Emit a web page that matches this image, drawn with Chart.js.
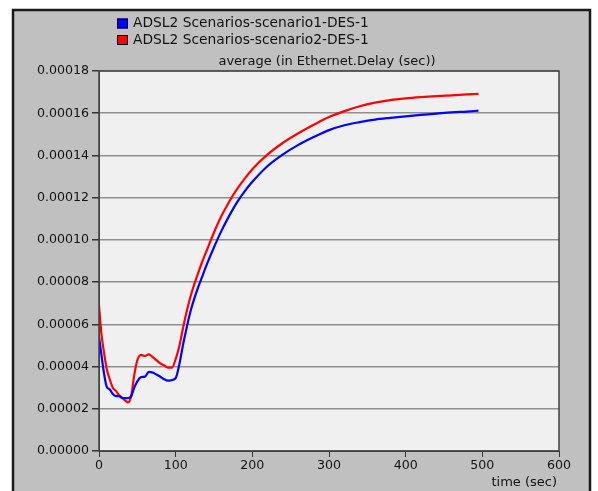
<!DOCTYPE html>
<html>
<head>
<meta charset="utf-8">
<script src="https://cdn.jsdelivr.net/npm/chart.js@4/dist/chart.umd.min.js"></script>
<style>
  html, body { margin: 0; padding: 0; background: #fff; }
  #wrap { width: 598px; height: 491px; }
</style>
</head>
<body>
<div id="wrap"><canvas id="delay" width="598" height="491"></canvas></div>
<script>
// sample times (sec)
let times = [0, 3, 6, 10, 14, 18, 22, 26, 30, 34, 38, 42, 46, 50, 55, 60, 65, 70, 75, 80, 85, 90, 95, 100,
  105, 110, 115, 120, 125, 130, 135, 140, 150, 160, 170, 180, 190, 200, 220, 240, 260, 280, 300, 320, 340, 360,
  380, 400, 420, 440, 460, 480, 495]

// average Ethernet delay, in units of 1e-5 sec
let scenario1 = [5.4, 4.6, 3.8, 3.05, 2.92, 2.7, 2.6, 2.6, 2.52, 2.5, 2.5, 2.6, 3.0, 3.3, 3.5, 3.52, 3.75, 3.72, 3.62, 3.52, 3.4, 3.33, 3.36, 3.45,
  4.15, 5.1, 5.95, 6.7, 7.3, 7.82, 8.3, 8.78, 9.65, 10.45, 11.15, 11.78, 12.3, 12.75, 13.5, 14.05, 14.5, 14.87, 15.2, 15.43, 15.58, 15.7,
  15.78, 15.85, 15.92, 15.98, 16.04, 16.08, 16.12]

let scenario2 = [6.9, 5.6, 4.8, 3.9, 3.4, 3.0, 2.85, 2.65, 2.52, 2.4, 2.3, 2.6, 3.6, 4.3, 4.55, 4.5, 4.58, 4.45, 4.3, 4.15, 4.05, 3.95, 3.95, 4.35,
  5.0, 5.9, 6.7, 7.4, 7.98, 8.5, 9.0, 9.45, 10.35, 11.15, 11.82, 12.4, 12.9, 13.35, 14.05, 14.6, 15.05, 15.45, 15.82, 16.1, 16.33, 16.5,
  16.62, 16.7, 16.76, 16.81, 16.85, 16.89, 16.92]

let seriesNames = ["ADSL2 Scenarios-scenario1-DES-1", "ADSL2 Scenarios-scenario2-DES-1"]
let seriesColors = ["#0000ff", "#ff0000"]

function toPoints(vals) {
  return times.map((t, i) => ({ x: t, y: vals[i] * 1e-5 }))
}

const FONT = "'DejaVu Sans', sans-serif"

// gray panel, plot background, legend and titles
const frame = {
  id: "frame",
  beforeDraw(chart) {
    let c = chart.ctx
    let a = chart.chartArea
    c.save()
    c.fillStyle = "#ffffff"
    c.fillRect(0, 0, chart.width, chart.height)
    c.fillStyle = "#c0c0c0"
    c.fillRect(13, 10, 577, 490)
    c.strokeStyle = "#1a1a1a"
    c.lineWidth = 2.5
    c.strokeRect(13, 10, 577, 490)
    c.fillStyle = "#f0f0f0"
    c.fillRect(a.left, a.top, a.right - a.left, a.bottom - a.top)
    c.restore()
  },
  afterDraw(chart) {
    let c = chart.ctx
    let a = chart.chartArea
    c.save()
    c.strokeStyle = "#404040"
    c.lineWidth = 1.5
    c.strokeRect(a.left, a.top, a.right - a.left, a.bottom - a.top)

    c.font = "13.8px " + FONT
    c.textBaseline = "middle"
    seriesNames.forEach((name, i) => {
      let y = 23.5 + i * 16.5
      c.fillStyle = seriesColors[i]
      c.fillRect(117, y - 5, 11, 10)
      c.strokeStyle = "#000"
      c.lineWidth = 1
      c.strokeRect(117.5, y - 4.5, 10, 9)
      c.fillStyle = "#111"
      c.textAlign = "left"
      c.fillText(name, 133, y)
    })

    c.font = "13px " + FONT
    c.textAlign = "center"
    c.fillText("average (in Ethernet.Delay (sec))", 327, 61.5)
    c.textAlign = "right"
    c.fillText("time (sec)", a.right - 2, 482.5)
    c.restore()
  }
}

let ctx = document.getElementById("delay").getContext("2d")

const delayChart = new Chart(ctx, {
  type: "line",
  data: {
    datasets: [
      { label: seriesNames[0], data: toPoints(scenario1), borderColor: seriesColors[0], borderWidth: 2.2, pointRadius: 0, cubicInterpolationMode: "monotone" },
      { label: seriesNames[1], data: toPoints(scenario2), borderColor: seriesColors[1], borderWidth: 2.2, pointRadius: 0, cubicInterpolationMode: "monotone" }
    ]
  },
  options: {
    responsive: false,
    animation: false,
    layout: { padding: { top: 71, right: 39, left: 0, bottom: 0 } },
    plugins: {
      legend: { display: false },
      tooltip: { enabled: false }
    },
    scales: {
      x: {
        type: "linear",
        min: 0,
        max: 600,
        afterFit: scale => { scale.height = 40 },
        ticks: { stepSize: 100, color: "#111", padding: 1, font: { family: FONT, size: 12.6 } },
        grid: { drawOnChartArea: false, tickLength: 6, tickColor: "#333" },
        border: { color: "#404040" }
      },
      y: {
        min: 0,
        max: 0.00018,
        afterFit: scale => { scale.width = 99 },
        ticks: {
          stepSize: 0.00002,
          color: "#111",
          padding: 3,
          font: { family: FONT, size: 12.6 },
          callback: v => v.toFixed(5)
        },
        grid: { color: "#8f8f8f", lineWidth: 1.5, tickLength: 7, tickColor: "#333" },
        border: { color: "#404040" }
      }
    }
  },
  plugins: [frame]
})
</script>
</body>
</html>
